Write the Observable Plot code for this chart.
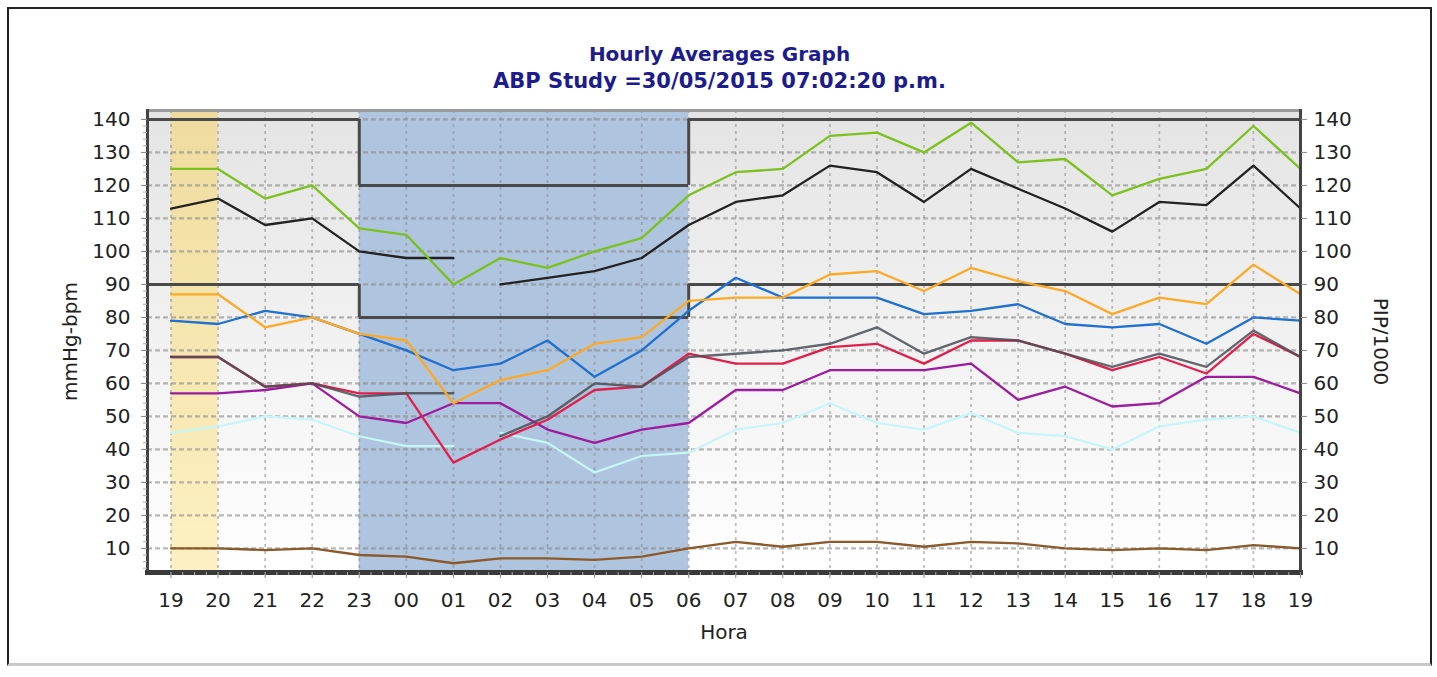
<!DOCTYPE html>
<html>
<head>
<meta charset="utf-8">
<script src="https://cdn.jsdelivr.net/npm/d3@7"></script>
<script src="https://cdn.jsdelivr.net/npm/@observablehq/plot@0.6"></script>
<style>
  html, body { margin: 0; padding: 0; background: #fff; }
  body { width: 1437px; height: 677px; position: relative; overflow: hidden; font-family: "DejaVu Sans", Verdana, sans-serif; }
  #box { position: absolute; left: 7px; top: 7px; width: 1421px; height: 654px; border-top: 2px solid #222; border-left: 2px solid #222; border-right: 2px solid #222; border-bottom: 3px solid #c8c8c8; }
  #title { position: absolute; left: 0; top: 41px; width: 1439px; text-align: center; color: #1c1c8c; font-size: 20px; font-weight: bold; line-height: 27px; }
  #title .sub { font-size: 21px; }
  #chart { position: absolute; left: 0; top: 95px; }
</style>
</head>
<body>
<div id="box"></div>
<div id="title">Hourly Averages Graph<br><span class="sub">ABP Study =30/05/2015 07:02:20 p.m.</span></div>
<div id="chart"></div>
<script>
// ---- data ----
const hours = ["19","20","21","22","23","00","01","02","03","04","05","06","07","08","09","10","11","12","13","14","15","16","17","18","19"];
const sbpMax  = [125,125,116,120,107,105,90,98,95,100,104,117,124,125,135,136,130,139,127,128,117,122,125,138,125];
const sbpMean = [113,116,108,110,100,98,98,90,92,94,98,108,115,117,126,124,115,125,119,113,106,115,114,126,113];
const dbpMax  = [87,87,77,80,75,73,54,61,64,72,74,85,86,86,93,94,88,95,91,88,81,86,84,96,87];
const hrMax   = [79,78,82,80,75,70,64,66,73,62,70,82,92,86,86,86,81,82,84,78,77,78,72,80,79];
const hrMean  = [68,68,59,60,57,57,36,43,49,58,59,69,66,66,71,72,66,73,73,69,64,68,63,75,68];
const dbpMean = [68,68,59,60,56,57,57,44,50,60,59,68,69,70,72,77,69,74,73,69,65,69,65,76,68];
const hrMin   = [57,57,58,60,50,48,54,54,46,42,46,48,58,58,64,64,64,66,55,59,53,54,62,62,57];
const dbpMin  = [45,47,50,49,44,41,41,45,42,33,38,39,46,48,54,48,46,51,45,44,40,47,49,50,45];
const pip     = [10,10,9.5,10,8,7.5,5.5,7,7,6.5,7.5,10,12,10.5,12,12,10.5,12,11.5,10,9.5,10,9.5,11,10];

const yTicks = [10,20,30,40,50,60,70,80,90,100,110,120,130,140];
const sysLimitDay = 140, sysLimitNight = 120;
const diaLimitDay = 90, diaLimitNight = 80;
const nightStartIdx = 4;   // "23"
const nightEndIdx = 11;    // "06"
const markedStartIdx = 0;  // first "19"
const markedEndIdx = 1;    // "20"
const gapAfterIdx = 6;     // gap between "01" and "02"
const gapSeries = ["sbpMean", "dbpMean", "dbpMin"];

// series, in drawing order
const seriesList = [
  {name: "pip", values: pip, color: "#8b5a2b", width: 2.3},
  {name: "dbpMin", values: dbpMin, color: "#c6f6f6", width: 2.2},
  {name: "hrMin", values: hrMin, color: "#9c1c9e", width: 2.3},
  {name: "hrMean", values: hrMean, color: "#e0204c", width: 2.3},
  {name: "dbpMean", values: dbpMean, color: "#4a4f56", width: 2.4, opacity: 0.85},
  {name: "hrMax", values: hrMax, color: "#2070d0", width: 2.3},
  {name: "dbpMax", values: dbpMax, color: "#fbaa28", width: 2.3},
  {name: "sbpMean", values: sbpMean, color: "#222222", width: 2.3},
  {name: "sbpMax", values: sbpMax, color: "#7cc11f", width: 2.3}
];

const xDomain = [-0.5, hours.length - 1];
const yDomain = [2.7, 142.7];

const lineMarks = seriesList.map(s => {
  const rows = s.values.map((v, i) => ({
    i, v,
    seg: gapSeries.includes(s.name) ? (i <= gapAfterIdx ? "a" : "b") : "a"
  }));
  return Plot.line(rows, {x: "i", y: "v", z: "seg", stroke: s.color, strokeWidth: s.width, strokeOpacity: s.opacity ?? 1});
});

const limitSegs = [
  {x1: xDomain[0], x2: nightStartIdx, y: sysLimitDay},
  {x1: nightStartIdx, x2: nightEndIdx, y: sysLimitNight},
  {x1: nightEndIdx, x2: xDomain[1], y: sysLimitDay},
  {x1: xDomain[0], x2: nightStartIdx, y: diaLimitDay},
  {x1: nightStartIdx, x2: nightEndIdx, y: diaLimitNight},
  {x1: nightEndIdx, x2: xDomain[1], y: diaLimitDay}
];
const limitSteps = [
  {x: nightStartIdx, y1: sysLimitNight, y2: sysLimitDay},
  {x: nightEndIdx, y1: sysLimitNight, y2: sysLimitDay},
  {x: nightStartIdx, y1: diaLimitNight, y2: diaLimitDay},
  {x: nightEndIdx, y1: diaLimitNight, y2: diaLimitDay}
];

const svg = Plot.plot({
  width: 1437,
  height: 582,
  marginLeft: 147,
  marginRight: 137,
  marginTop: 15,
  marginBottom: 105,
  style: {fontFamily: "DejaVu Sans, Verdana, sans-serif", fontSize: "20px", color: "#222", background: "transparent"},
  x: {domain: xDomain, axis: null},
  y: {domain: yDomain, axis: null},
  marks: [
    Plot.frame({fill: "url(#plotBg)", stroke: "none"}),
    Plot.rect([{x1: markedStartIdx, x2: markedEndIdx}], {x1: "x1", x2: "x2", fill: "url(#markBg)"}),
    Plot.rect([{x1: nightStartIdx, x2: nightEndIdx}], {x1: "x1", x2: "x2", fill: "#afc4df"}),
    Plot.gridY(yTicks, {stroke: "#8a8a8a", strokeOpacity: 0.6, strokeWidth: 2.4, strokeDasharray: "5,3"}),
    Plot.gridX(d3.range(0, hours.length), {stroke: "#8a8a8a", strokeOpacity: 0.55, strokeWidth: 1.8, strokeDasharray: "3,4"}),
    Plot.ruleY(limitSegs, {x1: "x1", x2: "x2", y: "y", stroke: "#4a4a4a", strokeWidth: 3}),
    Plot.ruleX(limitSteps, {x: "x", y1: "y1", y2: "y2", stroke: "#4a4a4a", strokeWidth: 3}),
    ...lineMarks,
    // frame borders
    Plot.frame({anchor: "top", stroke: "#9a9a9a", strokeWidth: 3}),
    Plot.frame({anchor: "left", stroke: "#444", strokeWidth: 3}),
    Plot.frame({anchor: "right", stroke: "#444", strokeWidth: 3}),
    Plot.frame({anchor: "bottom", stroke: "#3a3a3a", strokeWidth: 5}),
    // axes
    Plot.axisY(d3.range(4, 142, 2), {anchor: "left", tickSize: 4, tickFormat: () => "", stroke: "#aaa"}),
    Plot.axisY(yTicks, {anchor: "left", tickSize: 6, tickPadding: 11, label: null, stroke: "#888"}),
    Plot.axisY(yTicks, {anchor: "right", tickSize: 6, tickPadding: 7, label: null, stroke: "#888"}),
    Plot.axisX(d3.range(0, hours.length - 0.9, 0.25), {anchor: "bottom", tickSize: 3, tickFormat: () => "", stroke: "#aaa"}),
    Plot.axisX(d3.range(0, hours.length), {anchor: "bottom", tickSize: 6, tickPadding: 14, tickFormat: i => hours[i], label: "Hora", labelAnchor: "center", labelArrow: "none", labelOffset: 66, stroke: "#888"}),
    Plot.text(["mmHg-bpm"], {frameAnchor: "left", textAnchor: "middle", dx: -77, rotate: -90, text: d => d, fontSize: 20, fill: "#222"}),
    Plot.text(["PIP/1000"], {frameAnchor: "right", textAnchor: "middle", dx: 80, rotate: 90, text: d => d, fontSize: 20, fill: "#222"})
  ]
});

const defs = document.createElementNS("http://www.w3.org/2000/svg", "defs");
defs.innerHTML = `
  <linearGradient id="plotBg" x1="0" y1="0" x2="0" y2="1">
    <stop offset="0" stop-color="#e4e4e4"/>
    <stop offset="1" stop-color="#ffffff"/>
  </linearGradient>
  <linearGradient id="markBg" x1="0" y1="0" x2="0" y2="1">
    <stop offset="0" stop-color="#efdb9e"/>
    <stop offset="1" stop-color="#fdf1c3"/>
  </linearGradient>`;
svg.prepend(defs);
document.getElementById("chart").appendChild(svg);
</script>
</body>
</html>
